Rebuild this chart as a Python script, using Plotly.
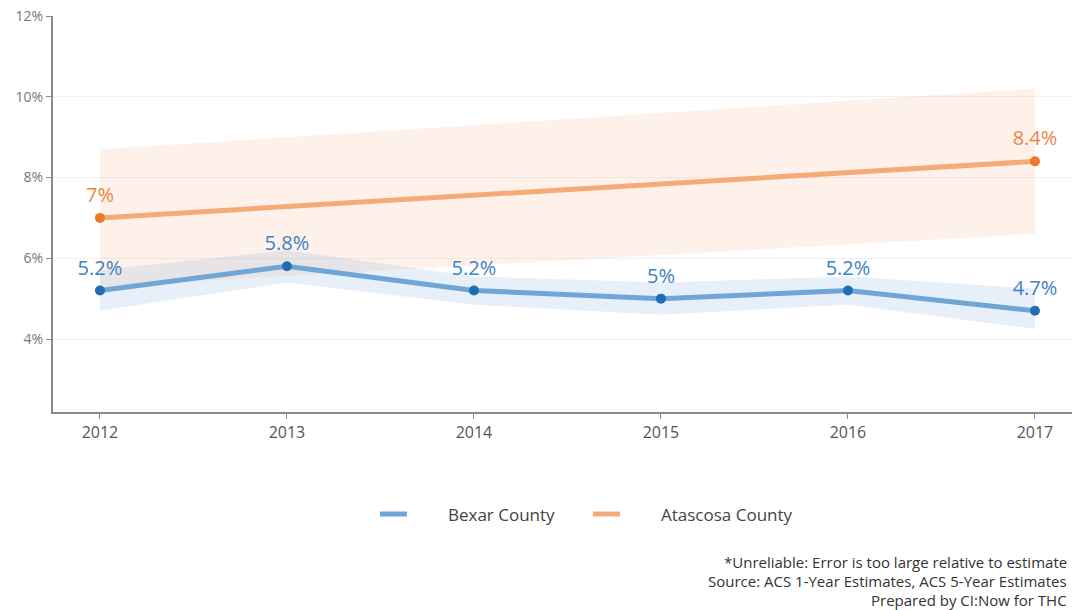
import plotly.graph_objects as go

years_bexar = [2012, 2013, 2014, 2015, 2016, 2017]
bexar = [5.2, 5.8, 5.2, 5.0, 5.2, 4.7]
bexar_low = [4.7, 5.4, 4.85, 4.6, 4.85, 4.25]
bexar_high = [5.7, 6.2, 5.55, 5.4, 5.55, 5.25]
bexar_labels = ["5.2%", "5.8%", "5.2%", "5%", "5.2%", "4.7%"]

years_atas = [2012, 2017]
atas = [7.0, 8.4]
atas_low = [5.3, 6.6]
atas_high = [8.7, 10.2]
atas_labels = ["7%", "8.4%"]

series_names = ["Bexar County", "Atascosa County"]

y_ticks = [4, 6, 8, 10, 12]
y_tick_text = ["4%", "6%", "8%", "10%", "12%"]
x_ticks = [2012, 2013, 2014, 2015, 2016, 2017]

footnotes = [
    "*Unreliable: Error is too large relative to estimate",
    "Source: ACS 1-Year Estimates, ACS 5-Year Estimates",
    "Prepared by CI:Now for THC",
]

FONT = "Open Sans"
BLUE_LINE = "#6fa6d6"
BLUE_DOT = "#1f6db3"
BLUE_TXT = "#3b82c4"
BLUE_FILL = "rgba(120,170,220,0.18)"
OR_LINE = "#f4ab78"
OR_DOT = "#ec7a2c"
OR_TXT = "#e8873f"
OR_FILL = "rgba(248,180,140,0.18)"

W, H = 1072, 610
L, R, T, B = 53, 0, 16, 198
pw, ph = W - L - R, H - T - B


def px_x(x):
    return (x - L) / pw


def px_y(y):
    return (H - B - y) / ph


fig = go.Figure()

fig.add_trace(go.Scatter(x=years_atas + years_atas[::-1], y=atas_high + atas_low[::-1],
                         fill="toself", fillcolor=OR_FILL, line=dict(width=0),
                         mode="lines", showlegend=False, hoverinfo="skip"))
fig.add_trace(go.Scatter(x=years_bexar + years_bexar[::-1], y=bexar_high + bexar_low[::-1],
                         fill="toself", fillcolor=BLUE_FILL, line=dict(width=0),
                         mode="lines", showlegend=False, hoverinfo="skip"))

fig.add_trace(go.Scatter(x=years_bexar, y=bexar, mode="lines", name=series_names[0],
                         line=dict(color=BLUE_LINE, width=5), showlegend=False))
fig.add_trace(go.Scatter(x=years_atas, y=atas, mode="lines", name=series_names[1],
                         line=dict(color=OR_LINE, width=5), showlegend=False))

fig.add_trace(go.Scatter(x=years_bexar, y=bexar, mode="markers",
                         marker=dict(color=BLUE_DOT, size=10), showlegend=False, hoverinfo="skip"))
fig.add_trace(go.Scatter(x=years_atas, y=atas, mode="markers",
                         marker=dict(color=OR_DOT, size=10), showlegend=False, hoverinfo="skip"))

# value labels (invisible larger marker to lift text)
fig.add_trace(go.Scatter(x=years_bexar, y=bexar, mode="markers+text", text=bexar_labels,
                         textposition="top center", textfont=dict(color=BLUE_TXT, size=20, family=FONT),
                         marker=dict(size=16, opacity=0), showlegend=False, hoverinfo="skip"))
fig.add_trace(go.Scatter(x=years_atas, y=atas, mode="markers+text", text=atas_labels,
                         textposition="top center", textfont=dict(color=OR_TXT, size=20, family=FONT),
                         marker=dict(size=16, opacity=0), showlegend=False, hoverinfo="skip"))

# custom legend
legend_items = [(series_names[0], BLUE_LINE, 380, 446), (series_names[1], OR_LINE, 593, 659)]
for name, col, x0, xt in legend_items:
    fig.add_shape(type="line", xref="paper", yref="paper",
                  x0=px_x(x0), x1=px_x(x0 + 27), y0=px_y(514), y1=px_y(514),
                  line=dict(color=col, width=5))
    fig.add_annotation(text=name, xref="paper", yref="paper", x=px_x(xt), y=px_y(514),
                       xanchor="left", yanchor="middle", showarrow=False,
                       font=dict(size=17, color="#444444", family=FONT))

for i, t in enumerate(footnotes):
    fig.add_annotation(text=t, xref="paper", yref="paper",
                       x=px_x(1069), y=px_y(562 + 19 * i),
                       xanchor="right", yanchor="middle", showarrow=False,
                       font=dict(size=15, color="#333333", family=FONT))

fig.update_layout(
    width=W, height=H,
    margin=dict(l=L, r=R, t=T, b=B),
    plot_bgcolor="white", paper_bgcolor="white",
    font=dict(family=FONT, color="#666666", size=14),
    showlegend=False,
    xaxis=dict(range=[2011.749, 2017.198], tickvals=x_ticks, showgrid=False,
               showline=True, linecolor="#8a8a8a", linewidth=2, ticks="outside",
               tickcolor="#8a8a8a", ticklen=5, tickfont=dict(size=16, color="#555555"), zeroline=False),
    yaxis=dict(range=[2.192, 12], tickvals=y_ticks, ticktext=y_tick_text,
               showgrid=True, gridcolor="#f0f0f0", gridwidth=1,
               showline=True, linecolor="#8a8a8a", linewidth=2, ticks="outside",
               tickcolor="#8a8a8a", ticklen=5, tickfont=dict(size=14, color="#777777"), zeroline=False),
)

fig.write_html("out.html", config={"displayModeBar": False},
               post_script="document.body.style.margin='0';document.body.style.overflow='hidden';")
